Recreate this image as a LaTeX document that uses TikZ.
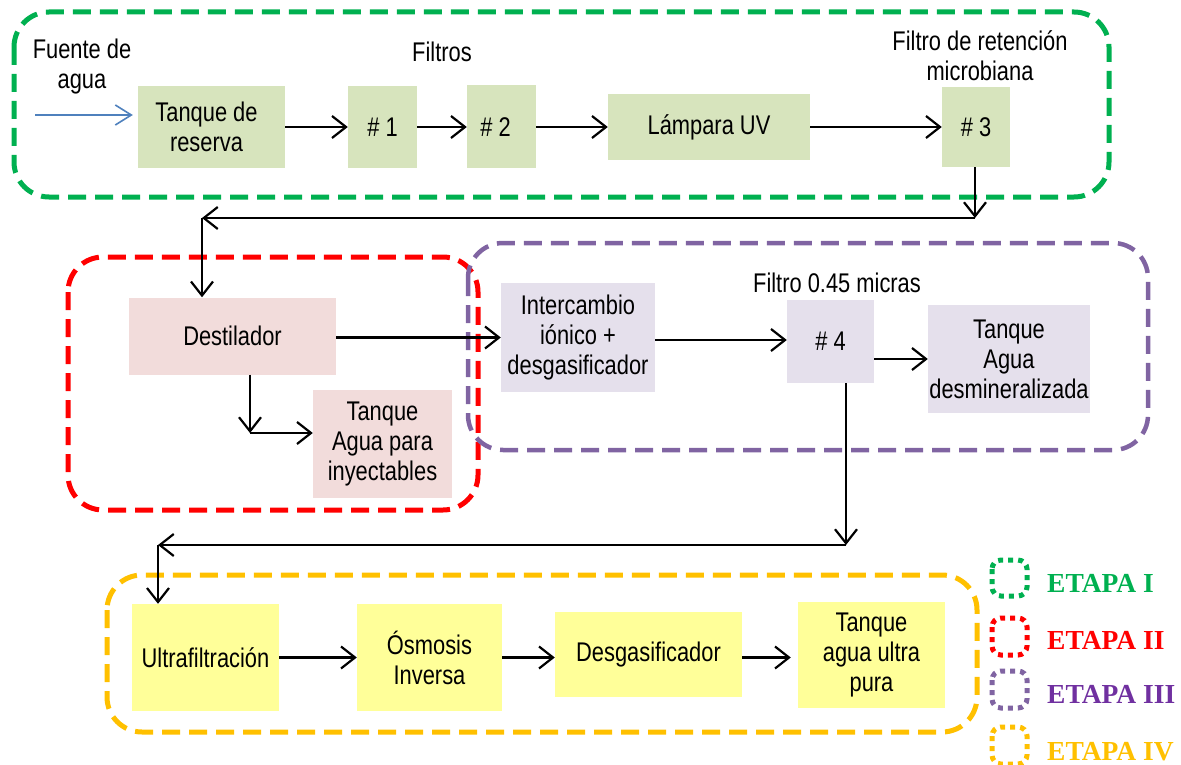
\documentclass[tikz,border=0pt]{standalone}
\usepackage{fontspec}
\setmainfont{Liberation Sans}[FakeStretch=0.81]
\newfontfamily\legendfont{Liberation Serif}
\usetikzlibrary{arrows.meta}

\definecolor{etapaI}{HTML}{00B050}
\definecolor{etapaII}{HTML}{FF0000}
\definecolor{etapaIII}{HTML}{8064A2}
\definecolor{etapaIIItxt}{HTML}{7030A0}
\definecolor{etapaIV}{HTML}{FFC000}
\definecolor{fillI}{HTML}{D7E4BD}
\definecolor{fillII}{HTML}{F2DCDB}
\definecolor{fillIII}{HTML}{E5E0EC}
\definecolor{fillIV}{HTML}{FFFF99}
\definecolor{srcblue}{HTML}{4F81BD}

\tikzset{
  txt/.style={font=\fontsize{27}{30}\selectfont, align=center, inner sep=0pt},
  cbox/.style={rectangle, inner sep=0pt, txt},
  flow/.style={draw=black, line width=2.2pt,
    -{Straight Barb[length=14pt,width=22pt,line width=2.2pt]}},
  srcflow/.style={draw=srcblue, line width=1.6pt,
    -{Straight Barb[length=16pt,width=20pt,line width=1.6pt]}},
  stage/.style={line width=5pt, rounded corners=35pt, dash pattern=on 18pt off 9pt},
  legbox/.style={line width=5pt, rounded corners=9pt, dash pattern=on 5pt off 5pt},
  legtxt/.style={font=\legendfont\bfseries\fontsize{27.5}{30}\selectfont, anchor=base west, inner sep=0pt},
}

\begin{document}
\begin{tikzpicture}[x=1pt, y=-1pt]
\useasboundingbox (0,0) rectangle (1181,765);

% stage frames
\draw[stage, etapaI] (14,12) rectangle (1109,197);
\draw[stage, etapaII] (68,257) rectangle (478,510);
\draw[stage, etapaIII, line width=4.5pt] (468,243) rectangle (1148,450);
\draw[stage, etapaIV] (107,575) rectangle (977,732);

% stage I
\node[cbox, fill=fillI, minimum width=147pt, minimum height=82pt] (tanque) at (211.5,127) {\hspace*{-10pt}Tanque de\\\hspace*{-10pt}reserva};
\node[cbox, fill=fillI, minimum width=69pt, minimum height=82pt] (f1) at (382.5,127) {\# 1};
\node[cbox, fill=fillI, minimum width=69pt, minimum height=83pt] (f2) at (501.5,127) {\hspace*{-12pt}\# 2};
\node[cbox, fill=fillI, minimum width=202pt, minimum height=66pt] (uv) at (709,127) {Lámpara UV};
\node[cbox, fill=fillI, minimum width=68pt, minimum height=80pt] (f3) at (976,127) {\# 3};
\node[txt] (fuente) at (82,67) {Fuente de\\agua};
\node[txt] (filtros) at (442,52) {Filtros};
\node[txt] (retencion) at (980,56) {Filtro de retención\\microbiana};

% stage II
\node[cbox, fill=fillII, minimum width=207pt, minimum height=77pt] (dest) at (232.5,336) {Destilador};
\node[cbox, fill=fillII, minimum width=139pt, minimum height=108pt] (iny) at (382.5,444) {Tanque\\Agua para\\inyectables};

% stage III
\node[cbox, fill=fillIII, minimum width=154pt, minimum height=109pt] (inter) at (578,337.5) {Intercambio\\iónico +\\desgasificador};
\node[cbox, fill=fillIII, minimum width=87pt, minimum height=83pt] (f4) at (830.5,341.5) {\# 4};
\node[cbox, fill=fillIII, minimum width=162pt, minimum height=108pt] (desm) at (1009,359) {Tanque\\Agua\\desmineralizada};
\node[txt] (micras) at (837,283) {Filtro 0.45 micras};

% stage IV
\node[cbox, fill=fillIV, minimum width=147pt, minimum height=107pt] (ultra) at (205.5,657.5) {Ultrafiltración};
\node[cbox, fill=fillIV, minimum width=145pt, minimum height=107pt] (osm) at (429.5,657.5) {Ósmosis\\Inversa};
\node[cbox, fill=fillIV, minimum width=187pt, minimum height=85pt] (desg) at (648.5,654.5) {Desgasificador};
\node[cbox, fill=fillIV, minimum width=147pt, minimum height=106pt] (pura) at (871.5,655) {Tanque\\agua ultra\\pura};

% routing points
\coordinate (src) at (35,115);
\coordinate (c1) at (975,218);
\coordinate (c2) at (202,218);
\coordinate (d1) at (250,433);
\coordinate (c3) at (846,545);
\coordinate (c4) at (158,545);

% connectors, stage I
\draw[srcflow, shorten >=5pt] (src) -- (src -| tanque.west);
\draw[flow] (tanque.east) -- (f1.west);
\draw[flow] (f1.east) -- (f2.west);
\draw[flow] (f2.east) -- (uv.west);
\draw[flow] (uv.east) -- (f3.west);
\draw[flow] (f3.south -| c1) -- (c1);
\draw[flow] (c1) -- (c2);
\draw[flow] (c2) -- (c2 |- dest.north);

% connectors, stage II and III
\draw[flow] (dest.east |- inter.west) -- (inter.west);
\draw[flow] (dest.south -| d1) -- (d1);
\draw[flow] (d1) -- (d1 -| iny.west);
\draw[flow] (inter.east |- 0,340) -- (f4.west |- 0,340);
\draw[flow] (f4.east |- desm.west) -- (desm.west);
\draw[flow] (f4.south -| c3) -- (c3);
\draw[flow] (c3) -- (c4);
\draw[flow] (c4) -- (c4 |- ultra.north);

% connectors, stage IV
\draw[flow] (ultra.east) -- (ultra.east -| osm.west);
\draw[flow] (osm.east |- ultra.east) -- (ultra.east -| desg.west);
\draw[flow, shorten >=7pt] (desg.east |- ultra.east) -- (ultra.east -| pura.west);

% legend
\draw[legbox, etapaI] (992,560) rectangle (1027,596);
\draw[legbox, etapaII] (992,618) rectangle (1027,655);
\draw[legbox, etapaIII] (992,671) rectangle (1027,708);
\draw[legbox, etapaIV] (992,727) rectangle (1027,764);
\node[legtxt, text=etapaI] (lI) at (1047,592) {ETAPA I};
\node[legtxt, text=etapaII] (lII) at (1047,649) {ETAPA II};
\node[legtxt, text=etapaIIItxt] (lIII) at (1047,703) {ETAPA III};
\node[legtxt, text=etapaIV] (lIV) at (1047,760) {ETAPA IV};
\end{tikzpicture}
\end{document}
